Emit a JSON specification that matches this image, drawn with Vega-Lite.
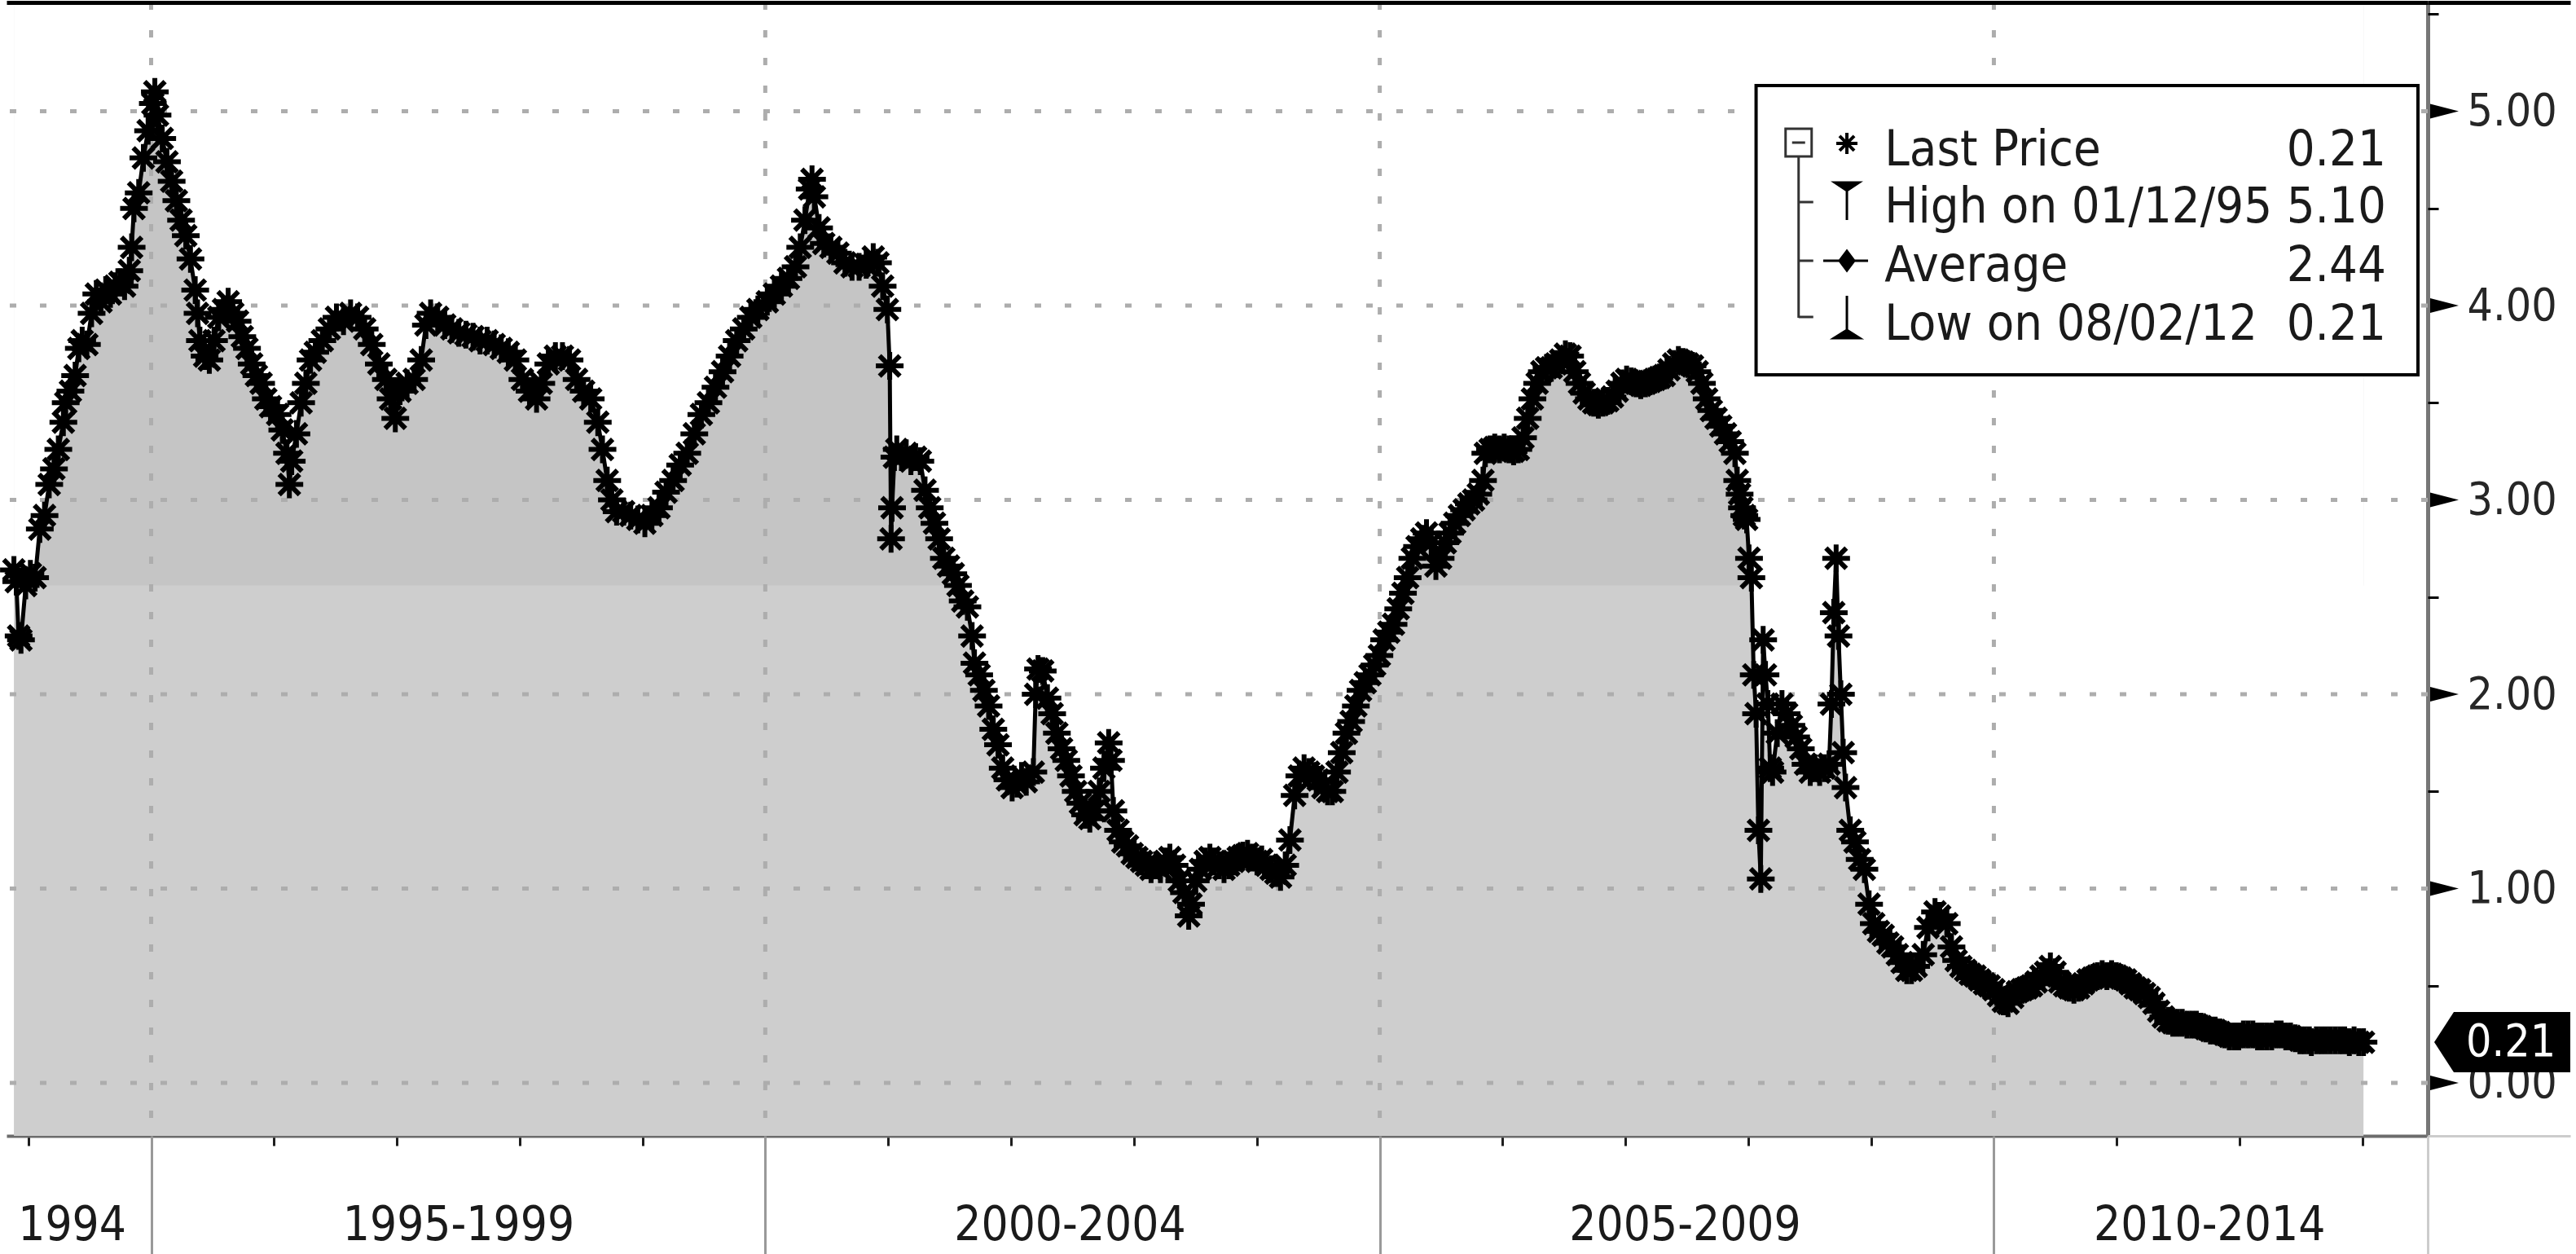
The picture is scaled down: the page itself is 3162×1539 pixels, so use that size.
{
"$schema": "https://vega.github.io/schema/vega-lite/v6.json",
"width": 2972,
"height": 1391,
"autosize": {"type": "none"},
"padding": {"left": 8, "top": 3, "right": 182, "bottom": 145},
"background": "#ffffff",
"config": {"view": {"stroke": null}, "font": "DejaVu Sans Condensed, Liberation Sans Narrow, DejaVu Sans"},
"datasets": {
"series": [
{"date":"1993-11-19","value":2.64},{"date":"1993-11-26","value":2.58},{"date":"1993-12-03","value":2.30},{"date":"1993-12-10","value":2.28},{"date":"1993-12-24","value":2.56},
{"date":"1994-01-07","value":2.62},{"date":"1994-01-21","value":2.60},{"date":"1994-02-04","value":2.85},{"date":"1994-02-18","value":2.92},{"date":"1994-03-04","value":3.08},{"date":"1994-03-18","value":3.16},{"date":"1994-03-31","value":3.26},{"date":"1994-04-15","value":3.40},{"date":"1994-04-22","value":3.50},{"date":"1994-05-06","value":3.56},{"date":"1994-05-20","value":3.64},{"date":"1994-05-31","value":3.78},{"date":"1994-06-10","value":3.82},{"date":"1994-06-24","value":3.80},{"date":"1994-07-08","value":3.96},{"date":"1994-07-22","value":4.06},{"date":"1994-08-05","value":4.02},{"date":"1994-08-19","value":4.08},{"date":"1994-09-02","value":4.06},{"date":"1994-09-16","value":4.10},{"date":"1994-09-30","value":4.12},{"date":"1994-10-14","value":4.10},{"date":"1994-10-28","value":4.18},{"date":"1994-11-04","value":4.30},{"date":"1994-11-11","value":4.50},{"date":"1994-11-25","value":4.58},{"date":"1994-12-09","value":4.76},{"date":"1994-12-23","value":4.90},
{"date":"1995-01-06","value":5.04},{"date":"1995-01-12","value":5.10},{"date":"1995-01-20","value":4.98},{"date":"1995-02-03","value":4.86},{"date":"1995-02-17","value":4.74},{"date":"1995-03-03","value":4.64},{"date":"1995-03-17","value":4.54},{"date":"1995-03-31","value":4.44},{"date":"1995-04-14","value":4.36},{"date":"1995-04-28","value":4.24},{"date":"1995-05-12","value":4.08},{"date":"1995-05-19","value":3.96},{"date":"1995-05-26","value":3.82},{"date":"1995-06-09","value":3.74},{"date":"1995-06-23","value":3.72},{"date":"1995-07-07","value":3.82},{"date":"1995-07-21","value":3.94},{"date":"1995-08-04","value":3.98},{"date":"1995-08-18","value":4.02},{"date":"1995-09-01","value":3.96},{"date":"1995-09-15","value":3.92},{"date":"1995-09-29","value":3.84},{"date":"1995-10-13","value":3.78},{"date":"1995-10-27","value":3.70},{"date":"1995-11-10","value":3.64},{"date":"1995-11-24","value":3.60},{"date":"1995-12-08","value":3.52},{"date":"1995-12-22","value":3.48},
{"date":"1996-01-12","value":3.44},{"date":"1996-01-26","value":3.36},{"date":"1996-02-09","value":3.24},{"date":"1996-02-16","value":3.08},{"date":"1996-02-23","value":3.20},{"date":"1996-03-08","value":3.34},{"date":"1996-03-22","value":3.50},{"date":"1996-04-05","value":3.60},{"date":"1996-04-19","value":3.72},{"date":"1996-05-03","value":3.76},{"date":"1996-05-24","value":3.82},{"date":"1996-06-14","value":3.88},{"date":"1996-07-05","value":3.94},{"date":"1996-07-26","value":3.92},{"date":"1996-08-16","value":3.96},{"date":"1996-09-06","value":3.94},{"date":"1996-09-27","value":3.88},{"date":"1996-10-18","value":3.80},{"date":"1996-11-08","value":3.70},{"date":"1996-11-29","value":3.62},{"date":"1996-12-13","value":3.52},{"date":"1996-12-27","value":3.42},
{"date":"1997-01-10","value":3.56},{"date":"1997-01-31","value":3.60},{"date":"1997-02-21","value":3.62},{"date":"1997-03-14","value":3.72},{"date":"1997-03-28","value":3.90},{"date":"1997-04-11","value":3.96},{"date":"1997-05-02","value":3.94},{"date":"1997-05-23","value":3.90},{"date":"1997-06-13","value":3.88},{"date":"1997-07-04","value":3.86},{"date":"1997-07-25","value":3.85},{"date":"1997-08-15","value":3.84},{"date":"1997-09-05","value":3.82},{"date":"1997-09-26","value":3.82},{"date":"1997-10-17","value":3.80},{"date":"1997-11-07","value":3.78},{"date":"1997-11-28","value":3.76},{"date":"1997-12-19","value":3.72},
{"date":"1998-01-09","value":3.62},{"date":"1998-01-30","value":3.56},{"date":"1998-02-20","value":3.52},{"date":"1998-03-06","value":3.60},{"date":"1998-03-27","value":3.70},{"date":"1998-04-17","value":3.74},{"date":"1998-05-08","value":3.74},{"date":"1998-05-29","value":3.72},{"date":"1998-06-19","value":3.62},{"date":"1998-07-10","value":3.56},{"date":"1998-07-31","value":3.52},{"date":"1998-08-21","value":3.40},{"date":"1998-09-04","value":3.26},{"date":"1998-09-18","value":3.10},{"date":"1998-10-02","value":3.00},{"date":"1998-10-16","value":2.94},{"date":"1998-11-06","value":2.94},{"date":"1998-11-27","value":2.92},{"date":"1998-12-18","value":2.90},
{"date":"1999-01-08","value":2.88},{"date":"1999-01-29","value":2.92},{"date":"1999-02-19","value":2.96},{"date":"1999-03-12","value":3.04},{"date":"1999-04-02","value":3.10},{"date":"1999-04-23","value":3.18},{"date":"1999-05-14","value":3.24},{"date":"1999-06-04","value":3.34},{"date":"1999-06-25","value":3.44},{"date":"1999-07-16","value":3.50},{"date":"1999-08-06","value":3.58},{"date":"1999-08-27","value":3.66},{"date":"1999-09-17","value":3.74},{"date":"1999-10-08","value":3.82},{"date":"1999-10-29","value":3.88},{"date":"1999-11-19","value":3.94},{"date":"1999-12-10","value":3.98},
{"date":"2000-01-07","value":4.02},{"date":"2000-01-28","value":4.06},{"date":"2000-02-18","value":4.10},{"date":"2000-03-10","value":4.14},{"date":"2000-03-31","value":4.20},{"date":"2000-04-14","value":4.30},{"date":"2000-04-28","value":4.44},{"date":"2000-05-12","value":4.60},{"date":"2000-05-19","value":4.65},{"date":"2000-05-26","value":4.56},{"date":"2000-06-09","value":4.40},{"date":"2000-06-23","value":4.32},{"date":"2000-07-14","value":4.30},{"date":"2000-08-04","value":4.27},{"date":"2000-08-25","value":4.22},{"date":"2000-09-15","value":4.20},{"date":"2000-10-06","value":4.20},{"date":"2000-10-27","value":4.21},{"date":"2000-11-17","value":4.25},{"date":"2000-12-01","value":4.22},{"date":"2000-12-15","value":4.10},{"date":"2000-12-29","value":3.98},
{"date":"2001-01-05","value":3.69},{"date":"2001-01-09","value":2.80},{"date":"2001-01-12","value":2.96},{"date":"2001-01-19","value":3.22},{"date":"2001-01-26","value":3.26},{"date":"2001-02-09","value":3.22},{"date":"2001-02-23","value":3.24},{"date":"2001-03-09","value":3.20},{"date":"2001-03-23","value":3.22},{"date":"2001-04-06","value":3.20},{"date":"2001-04-20","value":3.05},{"date":"2001-05-04","value":2.96},{"date":"2001-05-18","value":2.88},{"date":"2001-06-01","value":2.80},{"date":"2001-06-15","value":2.70},{"date":"2001-06-29","value":2.66},{"date":"2001-07-13","value":2.62},{"date":"2001-07-27","value":2.56},{"date":"2001-08-10","value":2.48},{"date":"2001-08-24","value":2.45},{"date":"2001-09-07","value":2.30},{"date":"2001-09-14","value":2.16},{"date":"2001-09-28","value":2.10},{"date":"2001-10-12","value":2.02},{"date":"2001-10-26","value":1.94},{"date":"2001-11-09","value":1.82},{"date":"2001-11-23","value":1.74},{"date":"2001-12-07","value":1.62},{"date":"2001-12-21","value":1.56},
{"date":"2002-01-04","value":1.52},{"date":"2002-01-18","value":1.54},{"date":"2002-02-01","value":1.58},{"date":"2002-02-15","value":1.55},{"date":"2002-03-08","value":1.60},{"date":"2002-03-15","value":2.00},{"date":"2002-03-22","value":2.13},{"date":"2002-04-05","value":2.12},{"date":"2002-04-19","value":1.98},{"date":"2002-05-03","value":1.90},{"date":"2002-05-17","value":1.80},{"date":"2002-05-31","value":1.72},{"date":"2002-06-14","value":1.66},{"date":"2002-06-28","value":1.58},{"date":"2002-07-12","value":1.50},{"date":"2002-07-26","value":1.44},{"date":"2002-08-09","value":1.38},{"date":"2002-08-23","value":1.36},{"date":"2002-09-06","value":1.40},{"date":"2002-09-20","value":1.50},{"date":"2002-10-04","value":1.62},{"date":"2002-10-18","value":1.75},{"date":"2002-10-25","value":1.66},{"date":"2002-11-01","value":1.40},{"date":"2002-11-15","value":1.30},{"date":"2002-11-29","value":1.24},{"date":"2002-12-13","value":1.22},{"date":"2002-12-27","value":1.18},
{"date":"2003-01-10","value":1.16},{"date":"2003-01-24","value":1.14},{"date":"2003-02-07","value":1.12},{"date":"2003-02-21","value":1.10},{"date":"2003-03-07","value":1.12},{"date":"2003-03-21","value":1.10},{"date":"2003-04-04","value":1.14},{"date":"2003-04-18","value":1.16},{"date":"2003-05-02","value":1.12},{"date":"2003-05-16","value":1.04},{"date":"2003-05-30","value":0.98},{"date":"2003-06-13","value":0.86},{"date":"2003-06-20","value":0.92},{"date":"2003-07-04","value":1.04},{"date":"2003-07-18","value":1.10},{"date":"2003-08-01","value":1.14},{"date":"2003-08-15","value":1.16},{"date":"2003-08-29","value":1.14},{"date":"2003-09-12","value":1.12},{"date":"2003-09-26","value":1.10},{"date":"2003-10-10","value":1.12},{"date":"2003-10-24","value":1.14},{"date":"2003-11-07","value":1.16},{"date":"2003-11-21","value":1.17},{"date":"2003-12-05","value":1.18},{"date":"2003-12-19","value":1.16},
{"date":"2004-01-02","value":1.14},{"date":"2004-01-16","value":1.15},{"date":"2004-01-30","value":1.12},{"date":"2004-02-13","value":1.10},{"date":"2004-02-27","value":1.08},{"date":"2004-03-12","value":1.06},{"date":"2004-03-26","value":1.12},{"date":"2004-04-09","value":1.25},{"date":"2004-04-23","value":1.48},{"date":"2004-05-07","value":1.58},{"date":"2004-05-21","value":1.62},{"date":"2004-06-04","value":1.60},{"date":"2004-06-18","value":1.58},{"date":"2004-07-02","value":1.56},{"date":"2004-07-16","value":1.52},{"date":"2004-07-30","value":1.50},{"date":"2004-08-13","value":1.50},{"date":"2004-08-27","value":1.60},{"date":"2004-09-10","value":1.70},{"date":"2004-09-24","value":1.80},{"date":"2004-10-08","value":1.86},{"date":"2004-10-22","value":1.94},{"date":"2004-11-05","value":2.02},{"date":"2004-11-19","value":2.06},{"date":"2004-12-03","value":2.10},{"date":"2004-12-17","value":2.15},{"date":"2004-12-31","value":2.20},
{"date":"2005-01-14","value":2.28},{"date":"2005-01-28","value":2.32},{"date":"2005-02-11","value":2.36},{"date":"2005-02-25","value":2.44},{"date":"2005-03-11","value":2.52},{"date":"2005-03-25","value":2.60},{"date":"2005-04-08","value":2.70},{"date":"2005-04-22","value":2.76},{"date":"2005-05-06","value":2.80},{"date":"2005-05-20","value":2.83},{"date":"2005-06-03","value":2.78},{"date":"2005-06-17","value":2.66},{"date":"2005-07-01","value":2.70},{"date":"2005-07-15","value":2.78},{"date":"2005-07-29","value":2.83},{"date":"2005-08-12","value":2.88},{"date":"2005-08-26","value":2.92},{"date":"2005-09-09","value":2.95},{"date":"2005-09-23","value":2.98},{"date":"2005-10-07","value":3.00},{"date":"2005-10-21","value":3.03},{"date":"2005-11-04","value":3.10},{"date":"2005-11-11","value":3.24},{"date":"2005-11-25","value":3.26},{"date":"2005-12-09","value":3.27},{"date":"2005-12-23","value":3.26},
{"date":"2006-01-06","value":3.27},{"date":"2006-01-20","value":3.26},{"date":"2006-02-03","value":3.25},{"date":"2006-02-17","value":3.26},{"date":"2006-03-03","value":3.32},{"date":"2006-03-17","value":3.42},{"date":"2006-03-31","value":3.52},{"date":"2006-04-14","value":3.60},{"date":"2006-04-28","value":3.66},{"date":"2006-05-12","value":3.68},{"date":"2006-05-26","value":3.68},{"date":"2006-06-09","value":3.70},{"date":"2006-06-23","value":3.72},{"date":"2006-07-07","value":3.75},{"date":"2006-07-21","value":3.74},{"date":"2006-08-04","value":3.66},{"date":"2006-08-18","value":3.60},{"date":"2006-09-01","value":3.55},{"date":"2006-09-15","value":3.52},{"date":"2006-09-29","value":3.50},{"date":"2006-10-13","value":3.49},{"date":"2006-10-27","value":3.50},{"date":"2006-11-10","value":3.51},{"date":"2006-11-24","value":3.53},{"date":"2006-12-08","value":3.56},{"date":"2006-12-22","value":3.60},
{"date":"2007-01-05","value":3.62},{"date":"2007-01-19","value":3.61},{"date":"2007-02-02","value":3.60},{"date":"2007-02-16","value":3.59},{"date":"2007-03-02","value":3.60},{"date":"2007-03-16","value":3.61},{"date":"2007-03-30","value":3.62},{"date":"2007-04-13","value":3.63},{"date":"2007-04-27","value":3.64},{"date":"2007-05-11","value":3.67},{"date":"2007-05-25","value":3.70},{"date":"2007-06-08","value":3.72},{"date":"2007-06-22","value":3.71},{"date":"2007-07-06","value":3.70},{"date":"2007-07-20","value":3.69},{"date":"2007-08-03","value":3.66},{"date":"2007-08-17","value":3.60},{"date":"2007-08-31","value":3.52},{"date":"2007-09-14","value":3.46},{"date":"2007-09-28","value":3.42},{"date":"2007-10-12","value":3.38},{"date":"2007-10-26","value":3.34},{"date":"2007-11-09","value":3.30},{"date":"2007-11-23","value":3.24},{"date":"2007-11-30","value":3.10},{"date":"2007-12-07","value":3.03},{"date":"2007-12-14","value":2.96},{"date":"2007-12-21","value":2.92},{"date":"2007-12-28","value":2.90},
{"date":"2008-01-04","value":2.70},{"date":"2008-01-11","value":2.60},{"date":"2008-01-18","value":2.10},{"date":"2008-01-25","value":1.90},{"date":"2008-02-01","value":1.30},{"date":"2008-02-08","value":1.05},{"date":"2008-02-15","value":2.28},{"date":"2008-02-22","value":2.10},{"date":"2008-02-29","value":1.95},{"date":"2008-03-07","value":1.62},{"date":"2008-03-14","value":1.60},{"date":"2008-03-28","value":1.80},{"date":"2008-04-11","value":1.95},{"date":"2008-04-25","value":1.90},{"date":"2008-05-09","value":1.84},{"date":"2008-05-23","value":1.78},{"date":"2008-06-06","value":1.72},{"date":"2008-06-20","value":1.64},{"date":"2008-07-04","value":1.60},{"date":"2008-07-18","value":1.62},{"date":"2008-08-01","value":1.60},{"date":"2008-08-15","value":1.62},{"date":"2008-08-29","value":1.64},{"date":"2008-09-05","value":1.95},{"date":"2008-09-12","value":2.42},{"date":"2008-09-19","value":2.70},{"date":"2008-09-26","value":2.30},{"date":"2008-10-03","value":2.00},{"date":"2008-10-10","value":1.70},{"date":"2008-10-17","value":1.52},{"date":"2008-10-31","value":1.30},{"date":"2008-11-14","value":1.24},{"date":"2008-11-28","value":1.15},{"date":"2008-12-12","value":1.10},{"date":"2008-12-26","value":0.92},
{"date":"2009-01-09","value":0.82},{"date":"2009-01-23","value":0.78},{"date":"2009-02-06","value":0.76},{"date":"2009-02-20","value":0.72},{"date":"2009-03-06","value":0.70},{"date":"2009-03-20","value":0.66},{"date":"2009-04-03","value":0.62},{"date":"2009-04-17","value":0.58},{"date":"2009-05-01","value":0.58},{"date":"2009-05-15","value":0.60},{"date":"2009-06-05","value":0.66},{"date":"2009-06-19","value":0.80},{"date":"2009-07-10","value":0.88},{"date":"2009-07-24","value":0.86},{"date":"2009-08-14","value":0.82},{"date":"2009-08-28","value":0.70},{"date":"2009-09-11","value":0.63},{"date":"2009-09-25","value":0.60},{"date":"2009-10-09","value":0.58},{"date":"2009-10-23","value":0.56},{"date":"2009-11-06","value":0.55},{"date":"2009-11-20","value":0.53},{"date":"2009-12-04","value":0.51},{"date":"2009-12-18","value":0.50},
{"date":"2010-01-01","value":0.48},{"date":"2010-01-15","value":0.45},{"date":"2010-01-29","value":0.42},{"date":"2010-02-12","value":0.41},{"date":"2010-02-26","value":0.44},{"date":"2010-03-12","value":0.47},{"date":"2010-03-26","value":0.48},{"date":"2010-04-09","value":0.49},{"date":"2010-04-23","value":0.50},{"date":"2010-05-07","value":0.52},{"date":"2010-05-21","value":0.55},{"date":"2010-06-04","value":0.57},{"date":"2010-06-18","value":0.60},{"date":"2010-07-02","value":0.57},{"date":"2010-07-16","value":0.52},{"date":"2010-07-30","value":0.50},{"date":"2010-08-13","value":0.49},{"date":"2010-08-27","value":0.48},{"date":"2010-09-10","value":0.49},{"date":"2010-09-24","value":0.51},{"date":"2010-10-08","value":0.53},{"date":"2010-10-22","value":0.54},{"date":"2010-11-05","value":0.55},{"date":"2010-11-19","value":0.56},{"date":"2010-12-03","value":0.55},{"date":"2010-12-17","value":0.56},{"date":"2010-12-31","value":0.55},
{"date":"2011-01-14","value":0.54},{"date":"2011-01-28","value":0.53},{"date":"2011-02-11","value":0.51},{"date":"2011-02-25","value":0.49},{"date":"2011-03-11","value":0.48},{"date":"2011-03-25","value":0.46},{"date":"2011-04-08","value":0.44},{"date":"2011-04-22","value":0.41},{"date":"2011-05-06","value":0.37},{"date":"2011-05-20","value":0.34},{"date":"2011-06-03","value":0.32},{"date":"2011-06-17","value":0.31},{"date":"2011-07-01","value":0.31},{"date":"2011-07-15","value":0.31},{"date":"2011-07-29","value":0.30},{"date":"2011-08-12","value":0.30},{"date":"2011-08-26","value":0.30},{"date":"2011-09-09","value":0.29},{"date":"2011-09-23","value":0.28},{"date":"2011-10-07","value":0.27},{"date":"2011-10-21","value":0.27},{"date":"2011-11-04","value":0.26},{"date":"2011-11-18","value":0.25},{"date":"2011-12-02","value":0.24},{"date":"2011-12-16","value":0.24},{"date":"2011-12-30","value":0.24},
{"date":"2012-01-13","value":0.25},{"date":"2012-01-27","value":0.25},{"date":"2012-02-10","value":0.25},{"date":"2012-02-24","value":0.24},{"date":"2012-03-09","value":0.24},{"date":"2012-03-23","value":0.24},{"date":"2012-04-06","value":0.24},{"date":"2012-04-20","value":0.25},{"date":"2012-05-04","value":0.25},{"date":"2012-05-18","value":0.24},{"date":"2012-06-01","value":0.24},{"date":"2012-06-15","value":0.23},{"date":"2012-06-29","value":0.22},{"date":"2012-07-13","value":0.22},{"date":"2012-07-27","value":0.22},{"date":"2012-08-02","value":0.21},{"date":"2012-08-17","value":0.22},{"date":"2012-08-31","value":0.22},{"date":"2012-09-14","value":0.22},{"date":"2012-09-28","value":0.22},{"date":"2012-10-12","value":0.22},{"date":"2012-10-26","value":0.22},{"date":"2012-11-09","value":0.22},{"date":"2012-11-23","value":0.21},{"date":"2012-12-07","value":0.22},{"date":"2012-12-21","value":0.21},{"date":"2013-01-04","value":0.21}
],
"yticks": [{"v":0},{"v":1},{"v":2},{"v":3},{"v":4},{"v":5}],
"vgrid": [{"date":"1995-01-01"},{"date":"2000-01-01"},{"date":"2005-01-01"},{"date":"2010-01-01"}],
"tag": [{"value":0.21,"label":"0.21"}],
"legend": [{"name":"Last Price","val":"0.21"},{"name":"High on 01/12/95","val":"5.10"},{"name":"Average","val":"2.44"},{"name":"Low on 08/02/12","val":"0.21"}]
},
"layer": [
{
"data": {"name": "series"},
"mark": {"type": "area", "color": "#cecece"},
"encoding": {
"x": {"field": "date", "type": "temporal",
"scale": {"type": "utc", "domain": [{"year":1993,"month":10,"date":28,"utc":true},{"year":2013,"month":7,"date":14,"utc":true}], "nice": false},
"axis": {"orient": "bottom", "values": [{"year":1994,"month":1,"date":1,"utc":true},{"year":1995,"month":1,"date":1,"utc":true},{"year":1996,"month":1,"date":1,"utc":true},{"year":1997,"month":1,"date":1,"utc":true},{"year":1998,"month":1,"date":1,"utc":true},{"year":1999,"month":1,"date":1,"utc":true},{"year":2000,"month":1,"date":1,"utc":true},{"year":2001,"month":1,"date":1,"utc":true},{"year":2002,"month":1,"date":1,"utc":true},{"year":2003,"month":1,"date":1,"utc":true},{"year":2004,"month":1,"date":1,"utc":true},{"year":2005,"month":1,"date":1,"utc":true},{"year":2006,"month":1,"date":1,"utc":true},{"year":2007,"month":1,"date":1,"utc":true},{"year":2008,"month":1,"date":1,"utc":true},{"year":2009,"month":1,"date":1,"utc":true},{"year":2010,"month":1,"date":1,"utc":true},{"year":2011,"month":1,"date":1,"utc":true},{"year":2012,"month":1,"date":1,"utc":true},{"year":2013,"month":1,"date":1,"utc":true}],
"ticks": true, "tickSize": 12, "tickWidth": 3, "tickColor": "#1e1e1e", "labels": false, "domain": true, "domainColor": "#6c6c6c", "domainWidth": 4, "grid": false, "title": null}},
"y": {"field": "value", "type": "quantitative",
"scale": {"domain": [-0.272, 5.56], "nice": false, "zero": false},
"axis": {"orient": "right", "values": [0,1,2,3,4,5], "format": ".2f", "ticks": false, "labelPadding": 48, "labelFontSize": 55, "labelColor": "#262626", "labelBaseline": "middle", "labelAlign": "left", "labelFlush": false, "labelOverlap": false, "labelLimit": 1000, "domain": true, "domainColor": "#777777", "domainWidth": 5, "grid": false, "title": null}},
"y2": {"datum": -0.272}
}
},
{
"data": {"name": "series"},
"mark": {"type": "area", "color": "#c5c5c5"},
"encoding": {
"x": {"field": "date", "type": "temporal",
"axis": {"orient": "bottom", "values": [{"year":1995,"month":1,"date":1,"utc":true},{"year":2000,"month":1,"date":1,"utc":true},{"year":2005,"month":1,"date":1,"utc":true},{"year":2010,"month":1,"date":1,"utc":true},{"year":2013,"month":7,"date":14,"utc":true}],
"ticks": true, "tickSize": 145, "tickWidth": 3, "tickColor": {"condition": {"test": "utcyear(datum.value) > 2012", "value": "#cccccc"}, "value": "#999999"}, "labels": false, "domain": false, "grid": false, "title": null}},
"y": {"datum": 2.56, "type": "quantitative",
"axis": {"orient": "right", "values": [0.5,1.5,2.5,3.5,4.5,5.5], "ticks": true, "tickSize": 13, "tickWidth": 3, "tickColor": "#000000", "labels": false, "domain": false, "grid": false, "title": null}},
"y2": {"datum": 5.56}
}
},
{
"data": {"name": "series"},
"mark": {"type": "area", "color": "#ffffff"},
"encoding": {
"x": {"field": "date", "type": "temporal",
"axis": {"orient": "bottom", "values": [{"year":1994,"month":5,"date":10,"utc":true},{"year":1997,"month":7,"date":2,"utc":true},{"year":2002,"month":6,"date":24,"utc":true},{"year":2007,"month":6,"date":27,"utc":true},{"year":2011,"month":10,"date":3,"utc":true}],
"labelExpr": "utcyear(datum.value) < 1995 ? '1994' : utcyear(datum.value) < 2000 ? '1995-1999' : utcyear(datum.value) < 2005 ? '2000-2004' : utcyear(datum.value) < 2010 ? '2005-2009' : '2010-2014'",
"ticks": false, "domain": false, "grid": false, "labelPadding": 127, "labelBaseline": "alphabetic", "labelFontSize": 58, "labelColor": "#1a1a1a", "labelFlush": false, "labelOverlap": false, "labelLimit": 1000, "title": null}},
"y": {"field": "value", "type": "quantitative",
"axis": {"orient": "right", "values": [-0.272, 5.56], "ticks": true, "tickSize": 175, "tickWidth": {"condition": {"test": "datum.value > 1", "value": 5}, "value": 3}, "tickColor": {"condition": {"test": "datum.value > 1", "value": "#000000"}, "value": "#cccccc"}, "labels": false, "domain": false, "grid": false, "title": null}},
"y2": {"datum": 5.56}
}
},
{
"data": {"name": "yticks"},
"mark": {"type": "rule", "color": "#adadad", "strokeWidth": 5, "strokeDash": [8, 29]},
"encoding": {"y": {"field": "v", "type": "quantitative", "axis": null}}
},
{
"data": {"name": "vgrid"},
"mark": {"type": "rule", "color": "#adadad", "strokeWidth": 5, "strokeDash": [9, 25]},
"encoding": {"x": {"field": "date", "type": "temporal",
"axis": {"orient": "top", "ticks": false, "labels": false, "domain": true, "domainColor": "#000000", "domainWidth": 5, "grid": false, "title": null, "zindex": 1}}}
},
{
"data": {"name": "series"},
"mark": {"type": "line", "color": "#000000", "strokeWidth": 5},
"encoding": {
"x": {"field": "date", "type": "temporal", "axis": null},
"y": {"field": "value", "type": "quantitative", "axis": null}
}
},
{
"data": {"name": "series"},
"mark": {"type": "point", "shape": "M-17,0H17M0,-17V17M-12.5,-12.5L12.5,12.5M-12.5,12.5L12.5,-12.5", "size": 4, "filled": false, "color": "#000000", "strokeWidth": 6, "opacity": 1},
"encoding": {
"x": {"field": "date", "type": "temporal", "axis": null},
"y": {"field": "value", "type": "quantitative", "axis": null}
}
},
{
"data": {"name": "yticks"},
"mark": {"type": "point", "shape": "M3,-9L38,0L3,9Z", "size": 4, "filled": true, "color": "#000000", "opacity": 1},
"encoding": {
"x": {"datum": {"year":2013,"month":7,"date":14,"utc":true}, "type": "temporal", "axis": null},
"y": {"field": "v", "type": "quantitative", "axis": null}
}
},
{
"data": {"name": "tag"},
"mark": {"type": "point", "shape": "M8,0L32,-37L175,-37L175,37L32,37Z", "size": 4, "filled": true, "color": "#000000", "opacity": 1},
"encoding": {
"x": {"datum": {"year":2013,"month":7,"date":14,"utc":true}, "type": "temporal", "axis": null},
"y": {"field": "value", "type": "quantitative", "axis": null}
}
},
{
"data": {"name": "tag"},
"mark": {"type": "text", "align": "left", "baseline": "middle", "dx": 47, "fontSize": 55, "color": "#ffffff"},
"encoding": {
"x": {"datum": {"year":2013,"month":7,"date":14,"utc":true}, "type": "temporal", "axis": null},
"y": {"field": "value", "type": "quantitative", "axis": null},
"text": {"field": "label"}
}
},
{
"data": {"name": "legend"},
"layer": [
{
"transform": [{"filter": "datum.name === 'Last Price'"}],
"mark": {"type": "rect", "fill": "#ffffff", "stroke": "#000000", "strokeWidth": 4},
"encoding": {
"x": {"datum": {"year":2008,"month":1,"date":25,"utc":true}, "type": "temporal", "axis": null},
"x2": {"datum": {"year":2013,"month":6,"date":15,"utc":true}},
"y": {"datum": 3.644, "type": "quantitative", "axis": null},
"y2": {"datum": 5.132}
}
},
{
"transform": [{"filter": "datum.name === 'Last Price'"}],
"mark": {"type": "point", "shape": "M-15,-17H17V17H-15ZM-7,0H9M1,17V215M1,73H19M1,145H19M1,214H19", "size": 4, "filled": false, "stroke": "#333333", "strokeWidth": 3, "opacity": 1},
"encoding": {
"x": {"datum": {"year":2008,"month":5,"date":28,"utc":true}, "type": "temporal", "axis": null},
"y": {"datum": 4.839, "type": "quantitative", "axis": null}
}
},
{
"transform": [{"filter": "datum.name === 'Last Price'"}],
"layer": [
{"mark": {"type": "text", "align": "left", "baseline": "alphabetic", "fontSize": 61, "color": "#1a1a1a"},
"encoding": {"x": {"datum": {"year":2009,"month":2,"date":10,"utc":true}, "type": "temporal", "axis": null}, "y": {"datum": 4.7215, "type": "quantitative", "axis": null}, "text": {"field": "name"}}},
{"mark": {"type": "text", "align": "right", "baseline": "alphabetic", "fontSize": 61, "color": "#1a1a1a"},
"encoding": {"x": {"datum": {"year":2013,"month":3,"date":12,"utc":true}, "type": "temporal", "axis": null}, "y": {"datum": 4.7215, "type": "quantitative", "axis": null}, "text": {"field": "val"}}},
{"mark": {"type": "point", "shape": "M-13,0H13M0,-13V13M-9,-9L9,9M-9,9L9,-9", "size": 4, "filled": false, "stroke": "#000000", "strokeWidth": 4, "opacity": 1},
"encoding": {"x": {"datum": {"year":2008,"month":10,"date":21,"utc":true}, "type": "temporal", "axis": null}, "y": {"datum": 4.835, "type": "quantitative", "axis": null}}}
]
},
{
"transform": [{"filter": "datum.name === 'High on 01/12/95'"}],
"layer": [
{"mark": {"type": "text", "align": "left", "baseline": "alphabetic", "fontSize": 61, "color": "#1a1a1a"},
"encoding": {"x": {"datum": {"year":2009,"month":2,"date":10,"utc":true}, "type": "temporal", "axis": null}, "y": {"datum": 4.428, "type": "quantitative", "axis": null}, "text": {"field": "name"}}},
{"mark": {"type": "text", "align": "right", "baseline": "alphabetic", "fontSize": 61, "color": "#1a1a1a"},
"encoding": {"x": {"datum": {"year":2013,"month":3,"date":12,"utc":true}, "type": "temporal", "axis": null}, "y": {"datum": 4.428, "type": "quantitative", "axis": null}, "text": {"field": "val"}}},
{"mark": {"type": "point", "shape": "M-15,-24L15,-24L0,-14ZM0,-24V22", "size": 4, "filled": true, "fill": "#000000", "stroke": "#000000", "strokeWidth": 3, "opacity": 1},
"encoding": {"x": {"datum": {"year":2008,"month":10,"date":21,"utc":true}, "type": "temporal", "axis": null}, "y": {"datum": 4.533, "type": "quantitative", "axis": null}}}
]
},
{
"transform": [{"filter": "datum.name === 'Average'"}],
"layer": [
{"mark": {"type": "text", "align": "left", "baseline": "alphabetic", "fontSize": 61, "color": "#1a1a1a"},
"encoding": {"x": {"datum": {"year":2009,"month":2,"date":10,"utc":true}, "type": "temporal", "axis": null}, "y": {"datum": 4.126, "type": "quantitative", "axis": null}, "text": {"field": "name"}}},
{"mark": {"type": "text", "align": "right", "baseline": "alphabetic", "fontSize": 61, "color": "#1a1a1a"},
"encoding": {"x": {"datum": {"year":2013,"month":3,"date":12,"utc":true}, "type": "temporal", "axis": null}, "y": {"datum": 4.126, "type": "quantitative", "axis": null}, "text": {"field": "val"}}},
{"mark": {"type": "point", "shape": "M-29,0H26M-9,0L0,-12L9,0L0,12Z", "size": 4, "filled": true, "fill": "#000000", "stroke": "#000000", "strokeWidth": 3, "opacity": 1},
"encoding": {"x": {"datum": {"year":2008,"month":10,"date":21,"utc":true}, "type": "temporal", "axis": null}, "y": {"datum": 4.231, "type": "quantitative", "axis": null}}}
]
},
{
"transform": [{"filter": "datum.name === 'Low on 08/02/12'"}],
"layer": [
{"mark": {"type": "text", "align": "left", "baseline": "alphabetic", "fontSize": 61, "color": "#1a1a1a"},
"encoding": {"x": {"datum": {"year":2009,"month":2,"date":10,"utc":true}, "type": "temporal", "axis": null}, "y": {"datum": 3.824, "type": "quantitative", "axis": null}, "text": {"field": "name"}}},
{"mark": {"type": "text", "align": "right", "baseline": "alphabetic", "fontSize": 61, "color": "#1a1a1a"},
"encoding": {"x": {"datum": {"year":2013,"month":3,"date":12,"utc":true}, "type": "temporal", "axis": null}, "y": {"datum": 3.824, "type": "quantitative", "axis": null}, "text": {"field": "val"}}},
{"mark": {"type": "point", "shape": "M0,-27V19M-16,25L16,25L0,15Z", "size": 4, "filled": true, "fill": "#000000", "stroke": "#000000", "strokeWidth": 3, "opacity": 1},
"encoding": {"x": {"datum": {"year":2008,"month":10,"date":21,"utc":true}, "type": "temporal", "axis": null}, "y": {"datum": 3.937, "type": "quantitative", "axis": null}}}
]
}
]
}
],
"resolve": {"axis": {"x": "independent", "y": "independent"}}
}
